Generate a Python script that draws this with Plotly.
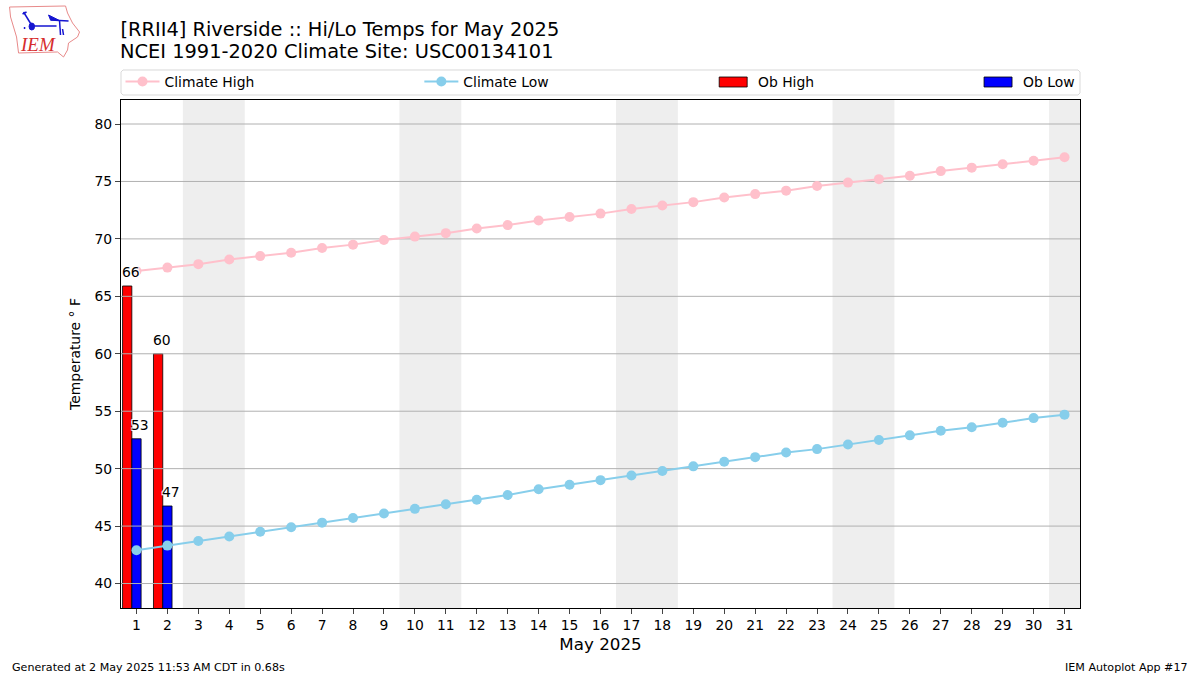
# 0. Gerekli kütüphaneleri import edelim
import plotly.graph_objs as go


# 1. Grafikten okunan günlük değerleri yazalım
gunler = list(range(1, 32))
iklim_yuksek = [67.2, 67.5, 67.8, 68.2, 68.5, 68.8, 69.2, 69.5, 69.9, 70.2, 70.5,
                70.9, 71.2, 71.6, 71.9, 72.2, 72.6, 72.9, 73.2, 73.6, 73.9,
                74.2, 74.6, 74.9, 75.2, 75.5, 75.9, 76.2, 76.5, 76.8, 77.1]
iklim_dusuk = [42.9, 43.3, 43.7, 44.1, 44.5, 44.9, 45.3, 45.7, 46.1, 46.5, 46.9,
               47.3, 47.7, 48.2, 48.6, 49.0, 49.4, 49.8, 50.2, 50.6, 51.0,
               51.4, 51.7, 52.1, 52.5, 52.9, 53.3, 53.6, 54.0, 54.4, 54.7]
gozlem_gunleri = [1, 2]
gozlem_yuksek = [65.9, 60.0]
gozlem_dusuk = [52.6, 46.75]
hafta_sonlari = [(2.5, 4.5), (9.5, 11.5), (16.5, 18.5), (23.5, 25.5), (30.5, 31.5)]
y_izgara = [40, 45, 50, 55, 60, 65, 70, 75, 80]

yazi_tipi = "DejaVu Sans"
golge = "-1px -1px 0 white, 1px -1px 0 white, -1px 1px 0 white, 1px 1px 0 white"
W = 1200
H = 675
SOL = 120.5
SAG = 1080
UST = 100
ALT = 608


# Piksel konumunu çizim alanına göre kağıt koordinatına çevirir
def px(x, y):
    return (x - SOL) / (SAG - SOL), (ALT - y) / (ALT - UST)


def yol(noktalar, kapali=False):
    parca = []
    for i, (x, y) in enumerate(noktalar):
        a, b = px(x, y)
        parca.append(("M" if i == 0 else "L") + f"{a:.5f},{b:.5f}")
    return " ".join(parca) + (" Z" if kapali else "")


# 2. Çubukları ve çizgileri ekleyelim
fig = go.Figure()
fig.add_trace(go.Bar(
    x = [g - 0.3 for g in gozlem_gunleri],
    y = gozlem_yuksek,
    width = 0.3,
    name = "Ob High",
    marker = dict(color="#ff0000", line=dict(color="black", width=0.8)),
    showlegend = False,
))
fig.add_trace(go.Bar(
    x = gozlem_gunleri,
    y = gozlem_dusuk,
    width = 0.3,
    name = "Ob Low",
    marker = dict(color="#0000ff", line=dict(color="black", width=0.8)),
    showlegend = False,
))

# Izgara çubukların üstünde, çizgilerin altında kalıyor
izgara_x = []
izgara_y = []
for deger in y_izgara:
    izgara_x += [0.5, 31.5, None]
    izgara_y += [deger, deger, None]
fig.add_trace(go.Scatter(
    x = izgara_x,
    y = izgara_y,
    mode = "lines",
    line = dict(color="#b0b0b0", width=1),
    hoverinfo = "skip",
    showlegend = False,
))
fig.add_trace(go.Scatter(
    x = gunler,
    y = iklim_yuksek,
    mode = "lines+markers",
    name = "Climate High",
    line = dict(color="pink", width=2),
    marker = dict(color="pink", size=10),
    legend = "legend",
))
fig.add_trace(go.Scatter(
    x = gunler,
    y = iklim_dusuk,
    mode = "lines+markers",
    name = "Climate Low",
    line = dict(color="skyblue", width=2),
    marker = dict(color="skyblue", size=10),
    legend = "legend2",
))

# 3. Hafta sonu bantları
for bas, son in hafta_sonlari:
    fig.add_vrect(x0=bas, x1=son, fillcolor="#eeeeee", line_width=0, layer="below")

# 4. Çubuk etiketleri
for g, deger in zip(gozlem_gunleri, gozlem_yuksek):
    fig.add_annotation(x=g - 0.15, y=deger, text=f"{deger:.0f}", showarrow=False,
                       yanchor="bottom", yshift=3.5, xshift=-1,
                       font=dict(size=13.9, color="black", shadow=golge))
for g, deger in zip(gozlem_gunleri, gozlem_dusuk):
    fig.add_annotation(x=g + 0.15, y=deger, text=f"{deger:.0f}", showarrow=False,
                       yanchor="bottom", yshift=3.5, xshift=-1,
                       font=dict(size=13.9, color="black", shadow=golge))

# 5. Başlık satırı ve alt yazılar
x0, y0 = px(120, 51.5)
fig.add_annotation(x=x0, y=y0, xref="paper", yref="paper", text="NCEI 1991-2020 Climate Site: USC00134101",
                   showarrow=False, xanchor="left", yanchor="middle", xshift=-3, font=dict(size=19.4, color="black"))
x0, y0 = px(12, 667)
fig.add_annotation(x=x0, y=y0, xref="paper", yref="paper", text="Generated at 2 May 2025 11:53 AM CDT in 0.68s",
                   showarrow=False, xanchor="left", yanchor="middle", xshift=-3, font=dict(size=11.1, color="black"))
x0, y0 = px(1188, 667)
fig.add_annotation(x=x0, y=y0, xref="paper", yref="paper", text="IEM Autoplot App #17",
                   showarrow=False, xanchor="right", yanchor="middle", xshift=2, font=dict(size=11.1, color="black"))

# 6. Gösterge çerçevesi ve çubuk göstergeleri
a, b = 120.5, 1080
c, d = 70, 95
r = 2
cerceve = yol([(a + r, c), (b - r, c), (b, c + r), (b, d - r), (b - r, d), (a + r, d), (a, d - r), (a, c + r)], True)
fig.add_shape(type="path", xref="paper", yref="paper", path=cerceve,
              line=dict(color="#d9d9d9", width=1), fillcolor="white", layer="below")
for sol, renk, yazi in [(719, "#ff0000", "Ob High"), (984, "#0000ff", "Ob Low")]:
    x0, y1 = px(sol, 77)
    x1, y0 = px(sol + 28, 87)
    fig.add_shape(type="rect", xref="paper", yref="paper", x0=x0, x1=x1, y0=y0, y1=y1,
                  line=dict(color="black", width=0.8), fillcolor=renk)
    x0, y0 = px(sol + 39, 82)
    fig.add_annotation(x=x0, y=y0, xref="paper", yref="paper", text=yazi, showarrow=False,
                       xanchor="left", yanchor="middle", xshift=-2, font=dict(size=13.9, color="black"))

# 7. IEM logosu
ana_hat = [(9, 7), (65, 6), (67, 13), (72, 23), (79, 32), (77, 37), (68, 43), (67, 50),
           (63, 57), (57, 52), (18, 53), (16, 37), (10, 17)]
fig.add_shape(type="path", xref="paper", yref="paper", path=yol(ana_hat, True),
              line=dict(color="#e88a8a", width=1))
for parca in [[(32, 26), (56, 26)], [(23, 12), (31, 25)], [(22, 14), (26, 12)], [(50, 20), (68, 21)],
              [(59, 21), (60, 35)], [(62, 29), (63, 35)], [(24, 27), (24, 29)]]:
    fig.add_shape(type="path", xref="paper", yref="paper", path=yol(parca),
                  line=dict(color="#1515d0", width=1.5))
fig.add_shape(type="path", xref="paper", yref="paper", path=yol([(48, 15), (58, 20), (50, 20)], True),
              line=dict(color="#1515d0", width=1), fillcolor="#1515d0")
x0, y1 = px(28.5, 23)
x1, y0 = px(34, 30)
fig.add_shape(type="circle", xref="paper", yref="paper", x0=x0, x1=x1, y0=y0, y1=y1,
              line=dict(color="#1515d0", width=1), fillcolor="#1515d0")
x0, y0 = px(37.5, 44.5)
fig.add_annotation(x=x0, y=y0, xref="paper", yref="paper", text="<i>IEM</i>", showarrow=False,
                   xanchor="center", yanchor="middle",
                   font=dict(family="Liberation Serif", size=19, color="#d62d2d"))

# 8. Grafik gösterimi
konum1 = px(120, 82)
konum2 = px(419, 82)
fig.update_layout(
    title = dict(text="[RRII4] Riverside :: Hi/Lo Temps for May 2025", x=SOL / W, xanchor="left",
                 y=1 - 29 / H, yanchor="middle", pad=dict(l=0), font=dict(size=19.4, color="black")),
    font = dict(family=yazi_tipi, size=13.9, color="black"),
    xaxis = dict(
        title = dict(text="May 2025", font=dict(size=16.7), standoff=6),
        range = [0.5, 31.5],
        tickmode = "array",
        tickvals = gunler,
        ticks = "outside",
        ticklen = 5,
        ticklabelstandoff = -1,
        showgrid = False,
        zeroline = False,
        showline = True,
        mirror = True,
        linecolor = "black",
        linewidth = 1,
        tickangle = 0,
    ),
    yaxis = dict(
        title = dict(text="Temperature ° F", font=dict(size=13.9), standoff=10),
        range = [37.87, 82.09],
        tickmode = "array",
        tickvals = y_izgara,
        ticks = "outside",
        ticklen = 5,
        showgrid = False,
        zeroline = False,
        showline = True,
        mirror = True,
        linecolor = "black",
        linewidth = 1,
    ),
    legend = dict(x=konum1[0], y=konum1[1], xanchor="left", yanchor="middle", orientation="h", itemwidth=34,
                  bgcolor="rgba(0,0,0,0)", itemclick=False, itemdoubleclick=False),
    legend2 = dict(x=konum2[0], y=konum2[1], xanchor="left", yanchor="middle", orientation="h", itemwidth=34,
                   bgcolor="rgba(0,0,0,0)", itemclick=False, itemdoubleclick=False),
    barmode = "overlay",
    margin = dict(l=SOL, r=W - SAG, t=UST, b=H - ALT, autoexpand=False),
    width = W,
    height = H,
    paper_bgcolor = "white",
    plot_bgcolor = "white",
)

fig.write_html("out.html", config=dict(displayModeBar=False), post_script="document.body.style.margin = '0';")
